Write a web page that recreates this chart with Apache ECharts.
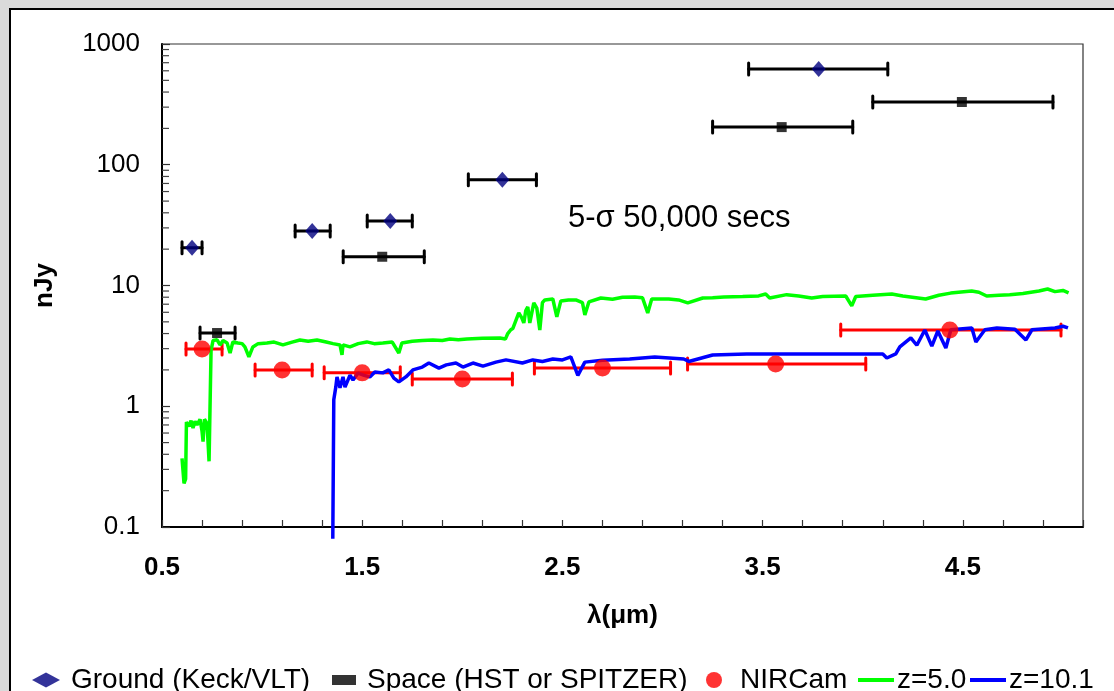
<!DOCTYPE html>
<html><head><meta charset="utf-8">
<script src="https://cdn.jsdelivr.net/npm/echarts@6/dist/echarts.min.js"></script>
<style>
html,body{margin:0;padding:0;width:1114px;height:691px;overflow:hidden;background:#dadada;}
#frame{position:absolute;left:9px;top:8px;width:1200px;height:800px;background:#fff;border-left:2px solid #000;border-top:2px solid #000;}
#chart{position:absolute;left:0;top:0;width:1114px;height:691px;}
</style></head><body>
<div id="frame"></div><div id="chart"></div>
<script>
// ---- data ----
const groundX  = [0.65, 1.25, 1.64, 2.20, 3.78];
const groundY  = [20.5, 28.3, 34.2, 75, 621];
const groundLo = [0.60, 1.165, 1.525, 2.03, 3.43];
const groundHi = [0.70, 1.34, 1.75, 2.37, 4.125];

const spaceX  = [0.775, 1.60, 3.595, 4.495];
const spaceY  = [4.04, 17.3, 205, 331];
const spaceLo = [0.69, 1.405, 3.25, 4.05];
const spaceHi = [0.865, 1.81, 3.95, 4.95];

const nircamX  = [0.70, 1.10, 1.50, 2.00, 2.70, 3.565, 4.435];
const nircamY  = [2.98, 2.0, 1.89, 1.68, 2.07, 2.24, 4.28];
const nircamLo = [0.62, 0.965, 1.31, 1.75, 2.36, 3.125, 3.89];
const nircamHi = [0.80, 1.25, 1.69, 2.25, 3.04, 4.015, 4.99];

const z5X = [0.600,0.610,0.618,0.622,0.635,0.645,0.655,0.665,0.675,0.690,0.700,0.705,0.712,0.725,0.735,0.745,0.755,0.775,0.790,0.805,0.825,0.840,0.854,0.879,0.900,0.914,0.934,0.954,0.98,1.024,1.06,1.104,1.15,1.189,1.23,1.274,1.32,1.354,1.389,1.399,1.404,1.439,1.48,1.523,1.56,1.603,1.65,1.683,1.698,1.75,1.80,1.853,1.90,1.938,1.98,2.023,2.10,2.188,2.215,2.227,2.242,2.252,2.282,2.297,2.307,2.317,2.327,2.337,2.357,2.372,2.387,2.40,2.412,2.452,2.472,2.492,2.53,2.567,2.60,2.612,2.632,2.692,2.75,2.80,2.861,2.90,2.926,2.946,3.031,3.08,3.126,3.201,3.25,3.306,3.40,3.48,3.515,3.535,3.620,3.68,3.745,3.80,3.915,3.945,3.965,4.05,4.145,4.20,4.314,4.38,4.439,4.544,4.58,4.619,4.68,4.734,4.80,4.88,4.923,4.96,5.0,5.028];
const z5Y = [0.37,0.23,0.25,0.74,0.68,0.76,0.66,0.75,0.70,0.78,0.62,0.51,0.78,0.72,0.35,2.9,3.5,3.55,3.22,3.5,3.34,2.76,3.41,3.34,3.3,3.1,2.57,3.1,3.3,3.34,3.4,3.22,3.4,3.54,3.45,3.54,3.4,3.3,3.22,2.66,3.22,3.1,3.3,3.41,3.3,3.34,3.4,2.76,3.34,3.45,3.5,3.54,3.5,3.6,3.55,3.61,3.65,3.68,3.6,4.0,4.3,4.4,5.93,5.4,4.9,6.2,6.65,4.9,7.18,6.5,4.28,7.2,7.59,7.73,5.49,7.45,7.6,7.59,7.2,5.71,7.31,7.88,7.7,8.0,8.03,7.9,5.93,7.73,7.73,7.6,7.18,7.88,7.9,8.03,8.1,8.2,8.5,7.88,8.4,8.2,7.88,8.1,8.18,6.78,8.1,8.3,8.5,8.2,7.73,8.3,8.65,9.0,8.8,8.18,8.3,8.4,8.6,9.0,9.35,8.9,9.1,8.7];

const z10X = [1.353,1.358,1.368,1.374,1.389,1.404,1.414,1.439,1.454,1.479,1.51,1.538,1.563,1.603,1.633,1.658,1.683,1.718,1.753,1.80,1.833,1.883,1.92,1.968,2.003,2.053,2.103,2.168,2.218,2.30,2.352,2.40,2.452,2.50,2.542,2.577,2.612,2.70,2.836,2.961,3.106,3.131,3.25,3.42,3.60,3.80,4.00,4.100,4.120,4.165,4.185,4.240,4.27,4.31,4.345,4.375,4.415,4.44,4.545,4.565,4.61,4.67,4.76,4.815,4.845,4.96,5.0,5.025];
const z10Y = [0.08,1.13,1.44,1.75,1.42,1.75,1.44,1.81,1.65,1.88,1.80,1.75,1.92,1.89,2.0,1.71,1.59,1.75,2.0,2.11,2.28,2.07,2.2,2.28,2.11,2.28,2.15,2.32,2.42,2.28,2.42,2.35,2.46,2.42,2.56,1.80,2.32,2.40,2.46,2.56,2.46,2.35,2.66,2.71,2.71,2.71,2.71,2.71,2.51,2.71,3.10,3.68,3.2,4.28,3.15,4.2,3.04,4.3,4.45,3.41,4.3,4.45,4.35,3.54,4.3,4.45,4.6,4.45];

const yMinorTicks = [0.2,0.3,0.4,0.5,0.6,0.7,0.8,0.9,2,3,4,5,6,7,8,9,20,30,40,50,60,70,80,90,200,300,400,500,600,700,800,900];
const xTickLabels = ['0.5','1.5','2.5','3.5','4.5'];
const yTickLabels = ['0.1','1','10','100','1000'];

// ---- chart ----
const FONT = '"Liberation Sans", Arial, sans-serif';
function errRender(color){
  return function(params, api){
    const y = api.value(1), lo = api.value(2), hi = api.value(3);
    const a = api.coord([lo, y]), b = api.coord([hi, y]);
    const h = 6;
    const st = {stroke: color, lineWidth: 3, lineCap: 'round'};
    return {type:'group', children:[
      {type:'line', shape:{x1:a[0],y1:a[1],x2:b[0],y2:b[1]}, style:st},
      {type:'line', shape:{x1:a[0],y1:a[1]-h,x2:a[0],y2:a[1]+h}, style:st},
      {type:'line', shape:{x1:b[0],y1:b[1]-h,x2:b[0],y2:b[1]+h}, style:st}
    ]};
  };
}
const zip = (xs, ys) => xs.map((x,i)=>[x, ys[i]]);
const zipErr = (xs, ys, lo, hi) => xs.map((x,i)=>[x, ys[i], lo[i], hi[i]]);

const chart = echarts.init(document.getElementById('chart'), null, {renderer:'canvas'});
const legendBase = {orient:'horizontal', top: 666, padding: 0, itemGap: 0, selectedMode: false,
  textStyle:{fontFamily: FONT, fontSize: 28, color:'#000', padding:[0,0,0,6]}};
const lineText = Object.assign({}, legendBase.textStyle, {padding:[0,0,0,-2]});
chart.setOption({
  animation: false,
  backgroundColor: 'transparent',
  grid: {left: 162, right: 31, top: 44, bottom: 164, show: true, borderColor: '#333', borderWidth: 1.2, backgroundColor: 'transparent'},
  xAxis: {
    type: 'value', min: 0.5, max: 5.1, interval: 0.2,
    name: 'λ(μm)', nameLocation: 'middle', nameGap: 76,
    nameTextStyle: {fontFamily: FONT, fontSize: 26, fontWeight: 'bold', color: '#000'},
    axisLine: {show: true, onZero: false, lineStyle: {color: '#000', width: 2}},
    axisTick: {show: true, inside: true, length: 7, lineStyle: {color: '#333', width: 1.2}},
    axisLabel: {margin: 28, fontFamily: FONT, fontSize: 26, fontWeight: 'bold', color: '#000',
      formatter: function(v){ const s = (Math.round(v*10)/10).toFixed(1); return xTickLabels.indexOf(s) >= 0 ? s : ''; }},
    splitLine: {show: false}
  },
  yAxis: {
    type: 'log', logBase: 10, min: 0.1, max: 1000,
    name: 'nJy', nameLocation: 'middle', nameGap: 104, nameRotate: 90,
    nameTextStyle: {fontFamily: FONT, fontSize: 26, fontWeight: 'bold', color: '#000'},
    axisLine: {show: true, lineStyle: {color: '#000', width: 2}},
    axisTick: {show: true, inside: true, length: 8, lineStyle: {color: '#333', width: 1.2}},
    axisLabel: {margin: 22, fontFamily: FONT, fontSize: 26, color: '#000',
      formatter: function(v){ const s = v >= 1 ? String(Math.round(v)) : String(+v.toPrecision(1)); return yTickLabels.indexOf(s) >= 0 ? s : ''; }},
    splitLine: {show: false}
  },
  legend: [
    Object.assign({}, legendBase, {left: 32, itemWidth: 28, itemHeight: 15, data:[{name:'Ground (Keck/VLT)', icon:'diamond'}]}),
    Object.assign({}, legendBase, {left: 332, itemWidth: 24, itemHeight: 10, data:[{name:'Space (HST or SPITZER)', icon:'rect'}]}),
    Object.assign({}, legendBase, {left: 706, itemWidth: 30, itemHeight: 16, data:[{name:'NIRCam', icon:'circle'}]}),
    Object.assign({}, legendBase, {left: 858, itemWidth: 36, itemHeight: 4, textStyle: lineText, data:[{name:'z=5.0', icon:'rect', itemStyle:{color:'#00ff00'}}]}),
    Object.assign({}, legendBase, {left: 970, itemWidth: 36, itemHeight: 4, textStyle: lineText, data:[{name:'z=10.1', icon:'rect', itemStyle:{color:'#0000ff'}}]})
  ],
  graphic: [
    {type:'text', left: 568, top: 203, style:{text:'5-σ 50,000 secs', font:'31px "Liberation Sans", Arial, sans-serif', fill:'#000'}}
  ],
  series: [
    {name:'yMinor', type:'custom', silent:true, clip:false, z:1,
      data: yMinorTicks.map(v=>[0.5, v]), encode:{x:0, y:1},
      renderItem: function(params, api){
        const p = api.coord([api.value(0), api.value(1)]);
        return {type:'line', shape:{x1:p[0], y1:p[1], x2:p[0]+7, y2:p[1]}, style:{stroke:'#444', lineWidth:1.2}};
      }},
    {name:'groundErr', type:'custom', z:3, data: zipErr(groundX, groundY, groundLo, groundHi), encode:{x:0,y:1}, renderItem: errRender('#000')},
    {name:'spaceErr', type:'custom', z:3, data: zipErr(spaceX, spaceY, spaceLo, spaceHi), encode:{x:0,y:1}, renderItem: errRender('#000')},
    {name:'nircamErr', type:'custom', z:3, data: zipErr(nircamX, nircamY, nircamLo, nircamHi), encode:{x:0,y:1}, renderItem: errRender('#ff0000')},
    {name:'z=5.0', type:'line', z:4, data: zip(z5X, z5Y), showSymbol:false, symbol:'none', color:'#00ff00',
      lineStyle:{color:'#00ff00', width:3.5}, clip:false},
    {name:'z=10.1', type:'line', z:5, data: zip(z10X, z10Y), showSymbol:false, symbol:'none', color:'#0000ff',
      lineStyle:{color:'#0000ff', width:3.5}, clip:false},
    {name:'Ground (Keck/VLT)', type:'scatter', z:6, symbol:'diamond', symbolSize:[14,16], data: zip(groundX, groundY),
      itemStyle:{color:'#000080'}},
    {name:'Space (HST or SPITZER)', type:'scatter', z:6, symbol:'rect', symbolSize:10, data: zip(spaceX, spaceY),
      itemStyle:{color:'#000'}},
    {name:'NIRCam', type:'scatter', z:6, symbol:'circle', symbolSize:17, data: zip(nircamX, nircamY),
      itemStyle:{color:'#ff0000'}}
  ]
});
</script></body></html>
